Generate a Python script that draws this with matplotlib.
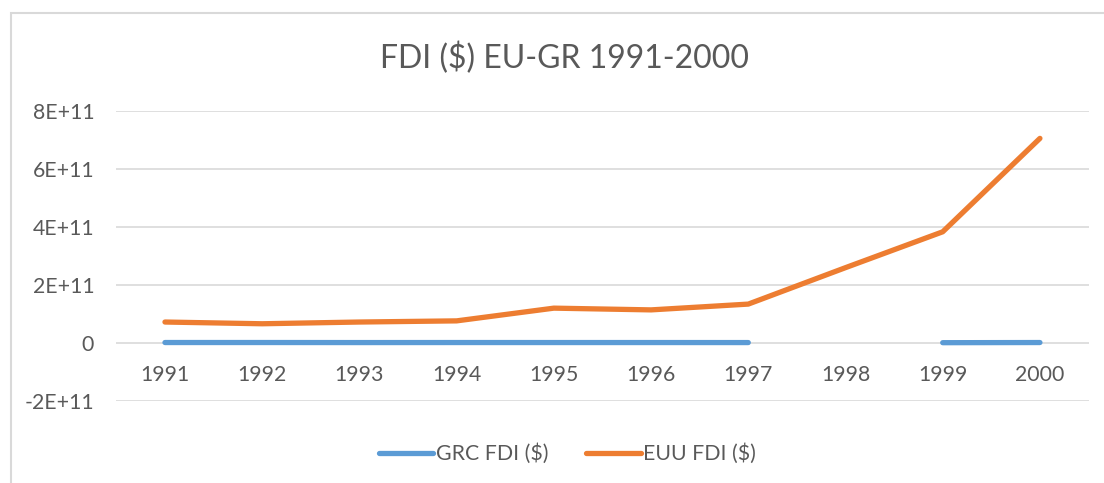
import matplotlib.pyplot as plt
import numpy as np
from matplotlib.patches import Rectangle

years = ["1991", "1992", "1993", "1994", "1995", "1996", "1997", "1998", "1999", "2000"]
grc_fdi = [1.14e9, 1.14e9, 9.8e8, 1.09e9, 1.05e9, 1.06e9, 9.8e8, np.nan, 5.7e8, 1.1e9]
euu_fdi = [7.2e10, 6.6e10, 7.2e10, 7.6e10, 1.20e11, 1.14e11, 1.34e11, 2.60e11, 3.84e11, 7.07e11]
yticks = [-2e11, 0, 2e11, 4e11, 6e11, 8e11]
ytick_labels = ["-2E+11", "0", "2E+11", "4E+11", "6E+11", "8E+11"]

plt.rcParams["font.family"] = ["Lato", "DejaVu Sans"]
text_color = "#595959"
grid_color = "#D9D9D9"

fig = plt.figure(figsize=(11.04, 4.83), dpi=100)
# chart border, running off the right and bottom edges like the screenshot
fig.patches.append(Rectangle((11 / 1104, -0.1), 1.2, (483 - 13) / 483 + 0.1,
                             transform=fig.transFigure, fill=False,
                             edgecolor=grid_color, linewidth=1.5))

ax = fig.add_axes([0.1054, 0.1704, 0.8806, 0.5988])
x = np.arange(len(years))
ax.plot(x, grc_fdi, color="#5B9BD5", linewidth=3.8, solid_capstyle="round", label="GRC FDI ($)", zorder=3)
ax.plot(x, euu_fdi, color="#ED7D31", linewidth=3.8, solid_capstyle="round", label="EUU FDI ($)", zorder=3)

ax.set_xlim(-0.5, len(years) - 0.5)
ax.set_ylim(-2e11, 8e11)
ax.set_yticks(yticks)
ax.set_yticklabels(ytick_labels)
ax.set_xticks([])
# category labels sit just under the zero line
for i, yr in enumerate(years):
    ax.annotate(yr, (i, 0), xytext=(0, -23), textcoords="offset points",
                ha="center", va="center", fontsize=15.3, color=text_color)

ax.grid(axis="y", color=grid_color, linewidth=1.2)
ax.set_axisbelow(True)
for s in ax.spines.values():
    s.set_visible(False)
ax.tick_params(axis="y", length=0, pad=16, labelsize=15.3, labelcolor=text_color)

fig.text(0.511, (483 - 58) / 483, "FDI ($) EU-GR 1991-2000", ha="center", va="center",
         fontsize=23, color=text_color)

fig.legend(loc="center", bbox_to_anchor=(0.514, (483 - 454) / 483), ncol=2, frameon=False,
           fontsize=15.3, labelcolor=text_color, handlelength=2.55, handletextpad=0.12,
           columnspacing=1.8)

fig.savefig("out.png", dpi=100)
